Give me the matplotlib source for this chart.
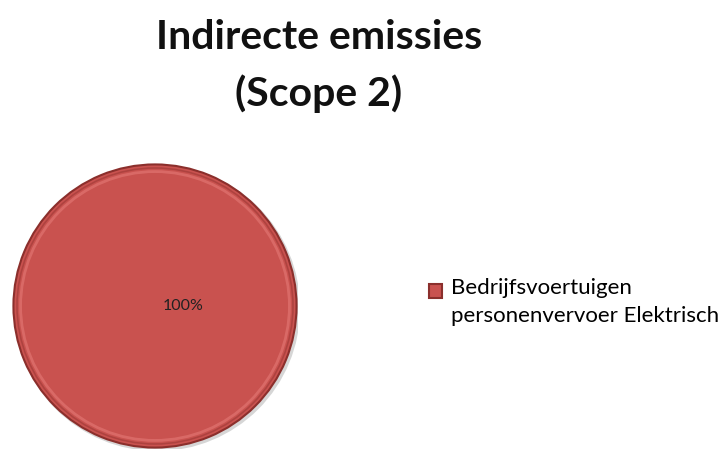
import matplotlib
matplotlib.use("Agg")
import matplotlib.pyplot as plt
from matplotlib.patches import Circle, Rectangle
from matplotlib.legend_handler import HandlerPatch

title = "Indirecte emissies\n(Scope 2)"
categories = ["Bedrijfsvoertuigen\npersonenvervoer Elektrisch"]
values = [100]
colors = ["#C9524F"]

W, H = 726, 450
fig = plt.figure(figsize=(W / 100, H / 100), dpi=100)
fig.patch.set_facecolor("white")

cx, cy, r = 155, 306, 143
ax = fig.add_axes([(cx - r) / W, (H - cy - r) / H, 2 * r / W, 2 * r / H])
ax.set_xlim(-1, 1)
ax.set_ylim(-1, 1)
ax.set_aspect("equal")
ax.axis("off")

# soft shadow
ax.add_patch(Circle((0.015, -0.015), 1.0, facecolor="#9a9a9a", edgecolor="none", alpha=0.4, zorder=0))

wedges, texts, autotexts = ax.pie(
    values, colors=colors, startangle=180, radius=0.99,
    autopct="%1.0f%%", pctdistance=0.2,
    wedgeprops=dict(edgecolor="#8B2F2C", linewidth=1.5),
    textprops=dict(fontsize=11.5, color="#222222", family="Lato"),
)
ax.set_xlim(-1, 1)
ax.set_ylim(-1, 1)
# bevel rings
ax.add_patch(Circle((0, 0), 0.94, facecolor="none", edgecolor="#E07470", linewidth=2.0, alpha=0.7, zorder=3))
ax.add_patch(Circle((0, 0), 0.965, facecolor="none", edgecolor="#A83F3C", linewidth=1.2, alpha=0.8, zorder=3))

fig.text(319 / W, 1 - 66 / H, title, ha="center", va="center", fontsize=29.5,
         fontweight="bold", family="Lato", linespacing=1.55, color="#111111")


def top_square(legend, orig_handle, xdescent, ydescent, width, height, fontsize):
    s = 9.5
    return Rectangle((-xdescent, -ydescent + height - s), s, s)


leg = fig.legend(wedges, categories, loc="upper left", bbox_to_anchor=(429 / W, 1 - 278 / H),
                 frameon=False, prop=dict(family="Lato", size=16), handlelength=0.6,
                 handleheight=2.2, handletextpad=0.4, borderaxespad=0, borderpad=0,
                 handler_map={wedges[0]: HandlerPatch(patch_func=top_square)})
for t in leg.get_texts():
    t.set_linespacing(1.5)

fig.savefig("out.png", dpi=100)
